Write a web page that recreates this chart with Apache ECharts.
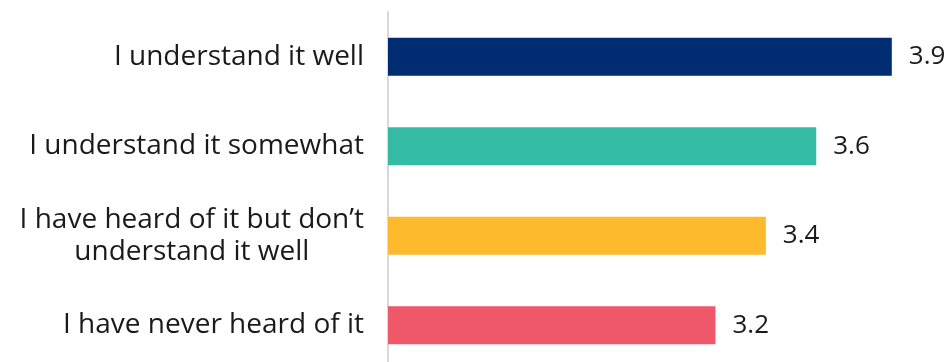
<!DOCTYPE html>
<html>
<head>
<meta charset="utf-8">
<script src="https://cdn.jsdelivr.net/npm/echarts@6/dist/echarts.min.js"></script>
<style>
  html, body { margin: 0; padding: 0; background: #ffffff; }
  #chart { width: 949px; height: 362px; }
</style>
</head>
<body>
<div id="chart"></div>
<script>
// Understanding level categories, top to bottom
const categories = [
  'I understand it well',
  'I understand it somewhat',
  'I have heard of it but don’t\nunderstand it well',
  'I have never heard of it'
];
// Mean score per group
const scores = [3.9, 3.6, 3.4, 3.2];
const barColors = ['#002d72', '#33bba6', '#fdba2c', '#ee5869'];

const FONT = '"Open Sans", sans-serif';
const TEXT = '#1a1a1a';

const chart = echarts.init(document.getElementById('chart'));
chart.setOption({
  animation: false,
  grid: {
    left: 388, top: 12, width: 529, height: 358,
    containLabel: false,
    outerBoundsMode: 'none'
  },
  xAxis: {
    type: 'value',
    min: 1.9,
    max: 4.0,
    axisLine: { show: false },
    axisTick: { show: false },
    axisLabel: { show: false },
    splitLine: { show: false }
  },
  yAxis: {
    type: 'category',
    inverse: true,
    data: categories,
    axisLine: { show: true, lineStyle: { color: '#d9d9d9', width: 2 } },
    axisTick: { show: false },
    axisLabel: {
      margin: 24,
      fontFamily: FONT,
      fontSize: 28,
      color: TEXT,
      lineHeight: 32,
      formatter: function (v) {
        if (v.indexOf('\n') >= 0) {
          return v.split('\n').map(function (s) { return '{c|' + s + '}'; }).join('\n');
        }
        return v;
      },
      rich: {
        c: { align: 'center', fontFamily: FONT, fontSize: 28, color: TEXT, lineHeight: 32 }
      }
    }
  },
  series: [{
    type: 'bar',
    barWidth: 38,
    data: scores.map(function (v, i) {
      return { value: v, itemStyle: { color: barColors[i] } };
    }),
    label: {
      show: true,
      position: 'right',
      distance: 17,
      fontFamily: FONT,
      fontSize: 26,
      color: TEXT,
      formatter: function (p) { return p.value.toFixed(1); }
    }
  }]
});
</script>
</body>
</html>
